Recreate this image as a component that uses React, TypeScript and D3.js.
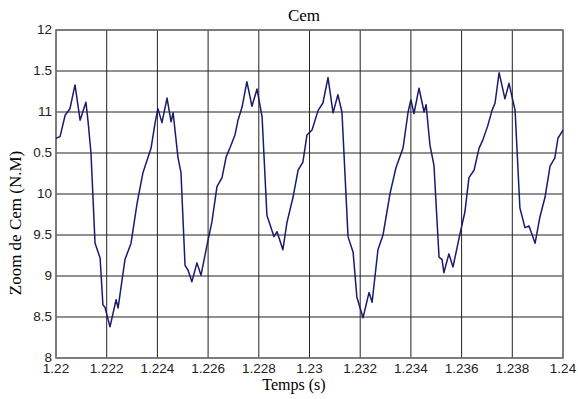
import React, { useEffect, useRef } from "react";
import * as d3 from "d3";

// sampled from the reference trace
const times = [
  1.22, 1.22016, 1.22036, 1.22055, 1.22075, 1.22095, 1.22118, 1.22126, 1.22138, 1.22154,
  1.22174, 1.22185, 1.22193, 1.22213, 1.22237, 1.22245, 1.22272, 1.22296, 1.2232, 1.22343,
  1.22375, 1.22391, 1.22402, 1.22418, 1.22438, 1.22454, 1.22462, 1.22481, 1.22493, 1.22509,
  1.22521, 1.22536, 1.22556, 1.22572, 1.22596, 1.22615, 1.22635, 1.22655, 1.22671, 1.22686,
  1.22706, 1.22718, 1.22734, 1.22753, 1.22773, 1.22793, 1.22813, 1.22832, 1.2286, 1.22872,
  1.22895, 1.22911, 1.22935, 1.22955, 1.22974, 1.2299, 1.2301, 1.23034, 1.23053, 1.23073,
  1.23093, 1.23112, 1.23128, 1.23152, 1.23172, 1.23187, 1.23211, 1.23235, 1.23247, 1.2327,
  1.2329, 1.23318, 1.23341, 1.23369, 1.23389, 1.234, 1.23412, 1.23432, 1.23452, 1.2346,
  1.23475, 1.23491, 1.23511, 1.23523, 1.2353, 1.2355, 1.23566, 1.23594, 1.23613, 1.23629,
  1.23649, 1.23669, 1.23684, 1.23704, 1.2372, 1.23732, 1.23748, 1.23771, 1.23787, 1.23811,
  1.2383, 1.2385, 1.23866, 1.2389, 1.23909, 1.23929, 1.23949, 1.23968, 1.2398, 1.24,
];
const cem = [
  10.68, 10.7, 10.96, 11.04, 11.33, 10.9, 11.12, 10.9, 10.5, 9.4,
  9.22, 8.65, 8.62, 8.38, 8.71, 8.61, 9.2, 9.4, 9.89, 10.26,
  10.56, 10.87, 11.04, 10.87, 11.17, 10.88, 10.99, 10.45, 10.26, 9.13,
  9.07, 8.93, 9.16, 9.01, 9.38, 9.66, 10.09, 10.2, 10.45, 10.56,
  10.72, 10.9, 11.06, 11.37, 11.07, 11.28, 10.94, 9.74, 9.48, 9.54,
  9.32, 9.65, 9.96, 10.29, 10.39, 10.72, 10.78, 11.02, 11.11, 11.42,
  10.99, 11.21, 11.0, 9.48, 9.29, 8.74, 8.49, 8.8, 8.68, 9.32,
  9.5, 10.01, 10.32, 10.56, 11.0, 11.15, 10.98, 11.29, 11.0, 11.09,
  10.6, 10.35, 9.23, 9.2, 9.04, 9.27, 9.11, 9.52, 9.78, 10.2,
  10.29, 10.56, 10.66, 10.84, 11.02, 11.11, 11.48, 11.16, 11.35, 11.02,
  9.83, 9.59, 9.61, 9.4, 9.72, 9.96, 10.34, 10.44, 10.68, 10.78,
];
const xTicks = [1.22, 1.222, 1.224, 1.226, 1.228, 1.23, 1.232, 1.234, 1.236, 1.238, 1.24];
const xTickLabels = ["1.22", "1.222", "1.224", "1.226", "1.228", "1.23", "1.232", "1.234", "1.236", "1.238", "1.24"];
const yTicks = [8, 8.5, 9, 9.5, 10, 10.5, 11, 11.5, 12];
const yTickLabels = ["8", "8.5", "9", "9.5", "10", "0.5", "11", "1.5", "12"];

export default function App() {
  const ref = useRef<SVGSVGElement>(null);

  useEffect(() => {
    document.body.style.margin = "0";
    const svg = d3.select(ref.current);
    svg.selectAll("*").remove();
    const margin = { top: 30, right: 15, bottom: 41, left: 56 },
      width = 578 - margin.left - margin.right,
      height = 399 - margin.top - margin.bottom;

    const g = svg.append("g").attr("transform", `translate(${margin.left},${margin.top})`);

    const x = d3.scaleLinear().domain([1.22, 1.24]).range([0, width]);
    const y = d3.scaleLinear().domain([8, 12]).range([height, 0]);

    // grid
    g.append("g")
      .selectAll("line")
      .data(xTicks)
      .join("line")
      .attr("x1", (d) => x(d))
      .attr("x2", (d) => x(d))
      .attr("y1", 0)
      .attr("y2", height)
      .style("stroke", "#222")
      .style("stroke-width", 1);
    g.append("g")
      .selectAll("line")
      .data(yTicks)
      .join("line")
      .attr("x1", 0)
      .attr("x2", width)
      .attr("y1", (d) => y(d))
      .attr("y2", (d) => y(d))
      .style("stroke", "#222")
      .style("stroke-width", 1);

    g.append("rect")
      .attr("width", width)
      .attr("height", height)
      .style("fill", "none")
      .style("stroke", "#777")
      .style("stroke-width", 1.5);

    // tick labels
    const sans = "'Liberation Sans', Arial, sans-serif";
    g.append("g")
      .selectAll("text")
      .data(xTicks)
      .join("text")
      .attr("x", (d) => x(d))
      .attr("y", height + 15)
      .attr("text-anchor", "middle")
      .style("font-family", sans)
      .style("font-size", "13.5px")
      .style("fill", "#222")
      .text((d, i) => xTickLabels[i]);
    g.append("g")
      .selectAll("text")
      .data(yTicks)
      .join("text")
      .attr("x", -4)
      .attr("y", (d) => y(d) + 4)
      .attr("text-anchor", "end")
      .style("font-family", sans)
      .style("font-size", "13.5px")
      .style("fill", "#222")
      .text((d, i) => yTickLabels[i]);

    const line = d3
      .line<number>()
      .x((d, i) => x(times[i]))
      .y((d) => y(d));
    g.append("path")
      .datum(cem)
      .attr("d", line)
      .style("fill", "none")
      .style("stroke", "#1b1b6b")
      .style("stroke-width", 1.5)
      .style("stroke-linejoin", "round");

    const serif = "'Liberation Serif', 'Times New Roman', serif";
    g.append("text")
      .attr("x", 304 - margin.left)
      .attr("y", 21 - margin.top)
      .attr("text-anchor", "middle")
      .style("font-family", serif)
      .style("font-size", "17px")
      .text("Cem");
    g.append("text")
      .attr("x", 294 - margin.left)
      .attr("y", 390 - margin.top)
      .attr("text-anchor", "middle")
      .style("font-family", serif)
      .style("font-size", "16px")
      .text("Temps (s)");
    g.append("text")
      .attr("transform", "rotate(-90)")
      .attr("x", -(223 - margin.top))
      .attr("y", 21 - margin.left)
      .attr("text-anchor", "middle")
      .style("font-family", serif)
      .style("font-size", "17px")
      .text("Zoom de Cem (N.M)");
  }, []);

  return <svg ref={ref} width={578} height={399} style={{ display: "block" }}></svg>;
}
